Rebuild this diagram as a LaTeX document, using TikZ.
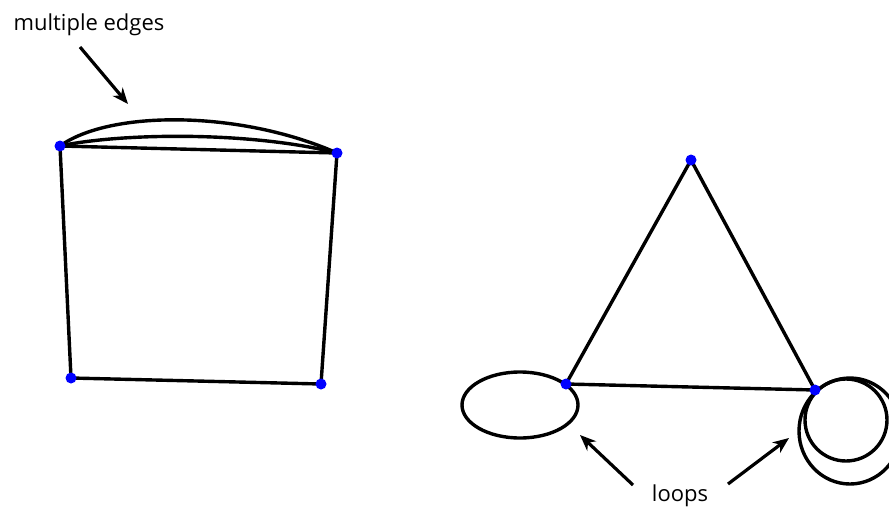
\documentclass[tikz,border=0pt]{standalone}
\usepackage{fontspec}
\setmainfont{Open Sans}
\usetikzlibrary{arrows.meta}
\begin{document}
\begin{tikzpicture}[x=1pt,y=-1pt,
  edge/.style={line width=3.4pt},
  vtx/.style={circle,fill=blue,inner sep=0pt,minimum size=11pt},
  pointer/.style={line width=3.2pt,-{Stealth[length=16pt,width=13pt,inset=5pt]}},
  lbl/.style={font=\fontsize{22}{24}\selectfont,inner sep=0pt}]
\useasboundingbox (0,0) rectangle (889,512);
% left graph
\coordinate (A) at (60,146);
\coordinate (B) at (337,153);
\coordinate (C) at (71,378);
\coordinate (D) at (321,384);
\draw[edge] (A) -- (B);
\draw[edge] (A) .. controls (120,133) and (250,131) .. (B);
\draw[edge] (A) .. controls (110,110) and (240,110) .. (B);
\draw[edge] (A) -- (C) -- (D) -- (B);
\node[vtx] (a) at (A) {};
\node[vtx] (b) at (B) {};
\node[vtx] (c) at (C) {};
\node[vtx] (d) at (D) {};
\node[lbl] (me) at (89,25) {multiple edges};
\coordinate (me1) at (80,47);
\coordinate (me2) at (128,104);
\draw[pointer] (me1) -- (me2);
% right graph
\coordinate (T) at (691,160);
\coordinate (L) at (566,384);
\coordinate (R) at (815,390);
\draw[edge] (T) -- (L) -- (R) -- cycle;
\draw[edge] (520,405) ellipse[x radius=58,y radius=33];
\draw[edge] (846,420) circle[radius=41];
\draw[edge] (850,431) ellipse[x radius=51,y radius=53];
\node[vtx] (t) at (T) {};
\node[vtx] (l) at (L) {};
\node[vtx] (r) at (R) {};
\node[lbl] (lp) at (680,496) {loops};
\coordinate (lp1) at (633,485);
\coordinate (lp2) at (580,435);
\coordinate (lp3) at (728,484);
\coordinate (lp4) at (789,438);
\draw[pointer] (lp1) -- (lp2);
\draw[pointer] (lp3) -- (lp4);
\end{tikzpicture}
\end{document}
